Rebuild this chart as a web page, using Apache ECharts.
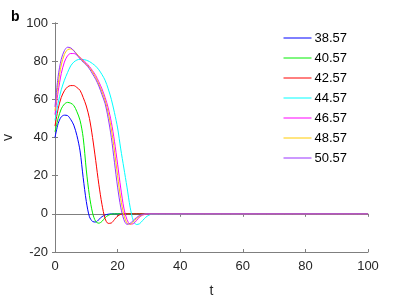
<!DOCTYPE html>
<html>
<head>
<meta charset="utf-8">
<script src="https://cdn.jsdelivr.net/npm/echarts@6/dist/echarts.min.js"></script>
<style>
  html, body { margin: 0; padding: 0; background: #fff; }
  #chart { width: 407px; height: 300px; }
</style>
</head>
<body>
<div id="chart"></div>
<script>
// time samples (t), last point is the end of the flat tail
var tValues = [0, 1, 2, 3, 4, 5, 6, 7, 8, 9, 10, 11, 12, 13, 14, 15, 16, 17, 18, 19, 20,
  21, 22, 23, 24, 25, 26, 27, 28, 29, 30, 31, 100]

var legendNames = ['38.57', '40.57', '42.57', '44.57', '46.57', '48.57', '50.57']
var lineColors = ['#0000ff', '#00ee00', '#ff0000', '#00ffff', '#ff00ff', '#ffcc00', '#9933ff']

var v3857 = [40, 47.3, 50.8, 51.7, 51.5, 49.5, 46.5, 41, 33, 19, 6.5, -1.5, -4, -4.3, -3, -1.5, -0.6, -0.2,
  0, 0, 0, 0, 0, 0, 0, 0, 0, 0, 0, 0, 0, 0, 0]
var v4057 = [43, 50, 55, 57.5, 58.4, 58, 56.8, 53.5, 49, 40, 23, 9.5, 0.5, -4, -4.9, -4, -2, -0.8, -0.2,
  0, 0, 0, 0, 0, 0, 0, 0, 0, 0, 0, 0, 0, 0]
var v4257 = [46, 55, 61, 64.5, 66.5, 67.2, 67.2, 66.2, 64.7, 61, 56.5, 50, 40, 28, 15.5, 5, -2.5, -5, -4.8, -3, -1.2, -0.3,
  0, 0, 0, 0, 0, 0, 0, 0, 0, 0, 0]
var v4457 = [49, 58, 65, 70, 74, 77.5, 79.5, 80.6, 81, 80.9, 80.5, 79.8, 78.7, 77.4, 75.5, 73, 70, 65.5, 60, 53, 45,
  34, 24, 14, 3.5, -3.5, -5.6, -5.2, -3.5, -1.8, -0.7, -0.2, 0]
var v4657 = [52, 64, 73.5, 79.5, 82.8, 84, 84, 83.2, 82, 80.5, 79, 77.2, 75, 72.5, 69.2, 65.5, 61, 55.5, 48, 38, 26,
  13.5, 3, -3, -5.4, -5.2, -3.6, -1.7, -0.7, -0.2, 0, 0, 0]
var v4857 = [54, 68, 78, 83.5, 86, 86.4, 85.5, 83.8, 81.8, 80, 78.4, 76.6, 74.3, 71.5, 68, 64, 59.5, 53, 44.5, 33, 20,
  8, -0.5, -4.8, -5.5, -4.3, -2.6, -1.3, -0.5, 0, 0, 0, 0]
var v5057 = [56, 72, 81, 85.5, 87.3, 87, 85.5, 83.3, 81.2, 79.5, 78, 76, 73.3, 70.5, 67, 62.5, 57.8, 50, 40, 27, 14,
  3.5, -3, -5.5, -5, -3.5, -2, -0.9, -0.3, 0, 0, 0, 0]

var allValues = [v3857, v4057, v4257, v4457, v4657, v4857, v5057]

var axisGray = '#7f7f7f'
var textColor = '#262626'
var fontName = 'Liberation Sans, Arial, sans-serif'

var charts = echarts.init(document.getElementById('chart'))

var series = allValues.map(function (vals, k) {
  return {
    name: legendNames[k],
    type: 'line',
    smooth: 0.3,
    symbol: 'none',
    lineStyle: { width: 1, color: lineColors[k] },
    itemStyle: { color: lineColors[k] },
    data: vals.map(function (v, i) { return [tValues[i], v] })
  }
})

var legendItems = legendNames.map(function (n, k) {
  return {
    name: n,
    itemStyle: { opacity: 0 },
    lineStyle: { color: lineColors[k], width: 1 }
  }
})

var options = {
  animation: false,
  backgroundColor: '#fff',
  title: {
    text: 'b',
    left: 6,
    top: 5,
    textStyle: { fontSize: 14, fontWeight: 'bold', color: '#000', fontFamily: fontName }
  },
  legend: {
    orient: 'vertical',
    left: 278,
    top: 26.5,
    itemWidth: 28,
    itemHeight: 14,
    itemGap: 7,
    itemStyle: { opacity: 0 },
    data: legendItems,
    textStyle: { fontSize: 13, color: '#000', fontFamily: fontName, padding: [0, 0, 0, -2] }
  },
  grid: {
    left: 55,
    right: 39,
    top: 23,
    bottom: 48,
    outerBoundsMode: 'none'
  },
  xAxis: [{
    type: 'value',
    min: 0,
    max: 100,
    interval: 20,
    name: 't',
    nameLocation: 'middle',
    nameGap: 32,
    nameTextStyle: { fontSize: 14, color: textColor, fontFamily: fontName },
    axisLine: { onZero: false, lineStyle: { color: axisGray, width: 1 } },
    axisTick: { inside: true, length: 3, lineStyle: { color: axisGray } },
    axisLabel: { fontSize: 13, color: textColor, fontFamily: fontName, margin: 8 },
    splitLine: { show: false }
  }, {
    type: 'value',
    position: 'top',
    min: 0,
    max: 100,
    interval: 20,
    axisLine: { show: true, lineStyle: { color: axisGray, width: 1 } },
    axisTick: { inside: true, length: 3, lineStyle: { color: axisGray } },
    axisLabel: { show: false },
    splitLine: { show: false }
  }],
  yAxis: [{
    type: 'value',
    min: -20,
    max: 100,
    interval: 20,
    name: 'v',
    nameLocation: 'middle',
    nameGap: 34,
    nameTextStyle: { fontSize: 14, color: textColor, fontFamily: fontName },
    axisLine: { show: true, onZero: false, lineStyle: { color: axisGray, width: 1 } },
    axisTick: { show: true, inside: true, length: 3, lineStyle: { color: axisGray } },
    axisLabel: { fontSize: 13, color: textColor, fontFamily: fontName, margin: 7 },
    splitLine: { show: false }
  }, {
    type: 'value',
    position: 'right',
    min: -20,
    max: 100,
    interval: 20,
    axisLine: { show: true, lineStyle: { color: axisGray, width: 1 } },
    axisTick: { show: true, inside: true, length: 3, lineStyle: { color: axisGray } },
    axisLabel: { show: false },
    splitLine: { show: false }
  }],
  series: series
}

charts.setOption(options)
window.addEventListener('resize', function () {
  charts.resize()
})
</script>
</body>
</html>
